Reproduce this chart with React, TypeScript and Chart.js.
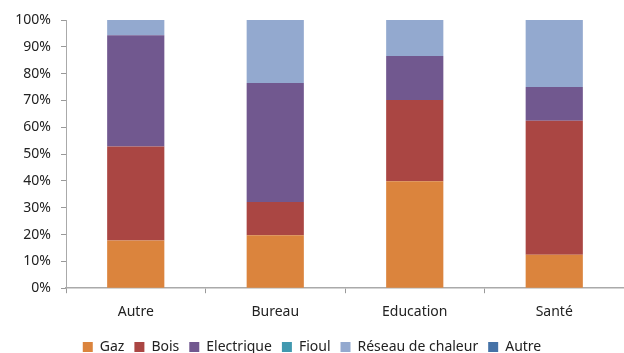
import React, { useEffect, useRef } from "react";
import { Chart, registerables } from "chart.js";

Chart.register(...registerables);

const categories = ["Autre", "Bureau", "Education", "Santé"];
const gaz = [17.8, 19.7, 39.9, 12.5];
const bois = [35.0, 12.4, 30.3, 49.9];
const electrique = [41.5, 44.4, 16.4, 12.6];
const fioul = [0, 0, 0, 0];
const reseau = [5.7, 23.5, 13.4, 25.0];
const autre = [0, 0, 0, 0];

const seriesNames = ["Gaz", "Bois", "Electrique", "Fioul", "Réseau de chaleur", "Autre"];
const seriesData = [gaz, bois, electrique, fioul, reseau, autre];
const seriesColors = ["#DB843D", "#AA4643", "#71588F", "#4198AF", "#93A9CF", "#4572A7"];

const FONT = "'Noto Sans', sans-serif";

export default function App() {
  const ref = useRef<HTMLCanvasElement>(null);
  useEffect(() => {
    document.body.style.margin = "0";
    const ctx = ref.current!;
    const chart = new Chart(ctx, {
      type: "bar",
      data: {
        labels: categories,
        datasets: seriesNames.map((n, i) => ({
          label: n,
          data: seriesData[i],
          backgroundColor: seriesColors[i],
          borderWidth: 0,
          categoryPercentage: 1,
          barPercentage: 0.41,
        })),
      },
      options: {
        responsive: false,
        animation: false,
        devicePixelRatio: 1,
        layout: { padding: { top: 20, right: 0, left: 0, bottom: -11 } },
        plugins: {
          tooltip: { enabled: false },
          legend: {
            position: "bottom",
            labels: {
              boxWidth: 10,
              boxHeight: 10,
              padding: 10,
              color: "#222",
              font: { family: FONT, size: 14 },
            },
          },
        },
        scales: {
          x: {
            stacked: true,
            grid: {
              display: true,
              drawOnChartArea: false,
              offset: true,
              tickLength: 5,
              color: "#999",
            },
            border: { color: "#aaa", width: 1.5 },
            ticks: { color: "#222", font: { family: FONT, size: 14 }, padding: 10 },
          },
          y: {
            stacked: true,
            min: 0,
            max: 100,
            afterFit: (s: any) => {
              s.width = 66;
            },
            grid: {
              display: true,
              drawOnChartArea: false,
              tickLength: 5,
              color: "#999",
            },
            border: { color: "#aaa", width: 1 },
            ticks: {
              stepSize: 10,
              color: "#222",
              padding: 10,
              font: { family: FONT, size: 14 },
              callback: (v: any) => v + "%",
            },
          },
        },
      },
    });
    return () => chart.destroy();
  }, []);
  return <canvas ref={ref} width={624} height={353} style={{ display: "block" }} />;
}
